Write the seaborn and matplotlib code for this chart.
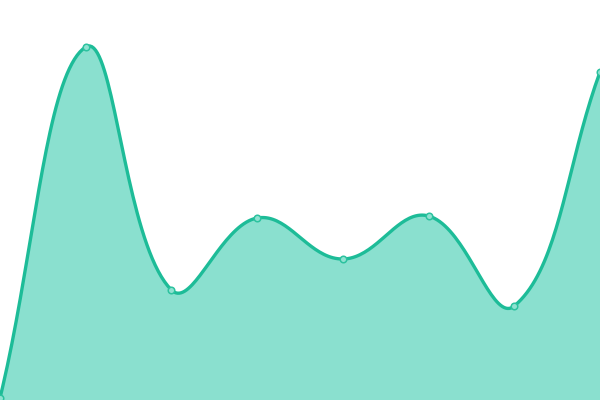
import numpy as np
import pandas as pd
import matplotlib
matplotlib.use("Agg")
import matplotlib.pyplot as plt
import seaborn as sns

# data points
positions = [0, 1, 2, 3, 4, 5, 6, 7]
values = [2, 353, 110, 182, 141, 184, 94, 328]

line_color = "#1dbc98"
fill_color = "#8ae0cf"

W, H = 600, 400


def spline_path(xs, ys, tension=0.4, steps=40):
    # bezier smoothing in pixel space, drawing only
    px = np.asarray(xs, float) * W / (len(xs) - 1)
    py = np.asarray(ys, float)
    n = len(px)
    cp_prev, cp_next = [], []
    for i in range(n):
        prev = (px[max(i - 1, 0)], py[max(i - 1, 0)])
        cur = (px[i], py[i])
        nxt = (px[min(i + 1, n - 1)], py[min(i + 1, n - 1)])
        d01 = np.hypot(cur[0] - prev[0], cur[1] - prev[1])
        d12 = np.hypot(nxt[0] - cur[0], nxt[1] - cur[1])
        s01 = d01 / (d01 + d12)
        s12 = d12 / (d01 + d12)
        fa, fb = tension * s01, tension * s12
        dx, dy = nxt[0] - prev[0], nxt[1] - prev[1]
        cp_prev.append((cur[0] - fa * dx, np.clip(cur[1] - fa * dy, 0, H)))
        cp_next.append((cur[0] + fb * dx, np.clip(cur[1] + fb * dy, 0, H)))
    t = np.linspace(0, 1, steps, endpoint=False)[:, None]
    pts = []
    for i in range(n - 1):
        p0 = np.array([px[i], py[i]])
        p1 = np.array(cp_next[i])
        p2 = np.array(cp_prev[i + 1])
        p3 = np.array([px[i + 1], py[i + 1]])
        seg = ((1 - t) ** 3) * p0 + 3 * ((1 - t) ** 2) * t * p1 \
            + 3 * (1 - t) * t ** 2 * p2 + t ** 3 * p3
        pts.append(seg)
    pts.append(np.array([[px[-1], py[-1]]]))
    pts = np.vstack(pts)
    return pts[:, 0] * (len(xs) - 1) / W, pts[:, 1]


sx, sy = spline_path(positions, values)
smooth = pd.DataFrame({"x": sx, "y": sy})
points = pd.DataFrame({"x": positions, "y": values})

sns.set_style("white")
fig = plt.figure(figsize=(6, 4), dpi=100)
ax = fig.add_axes([0, 0, 1, 1])

ax.fill_between(smooth["x"], smooth["y"], 0, color=fill_color, linewidth=0)
sns.lineplot(data=smooth, x="x", y="y", ax=ax, color=line_color, linewidth=2.4,
             sort=False, estimator=None)
sns.scatterplot(data=points, x="x", y="y", ax=ax, s=22, color="#8fe2d1",
                edgecolor="#2cc29f", linewidth=1.1, zorder=5)

ax.set_xlim(0, 7)
ax.set_ylim(0, 400)
ax.axis("off")

fig.savefig("out.png", dpi=100)
